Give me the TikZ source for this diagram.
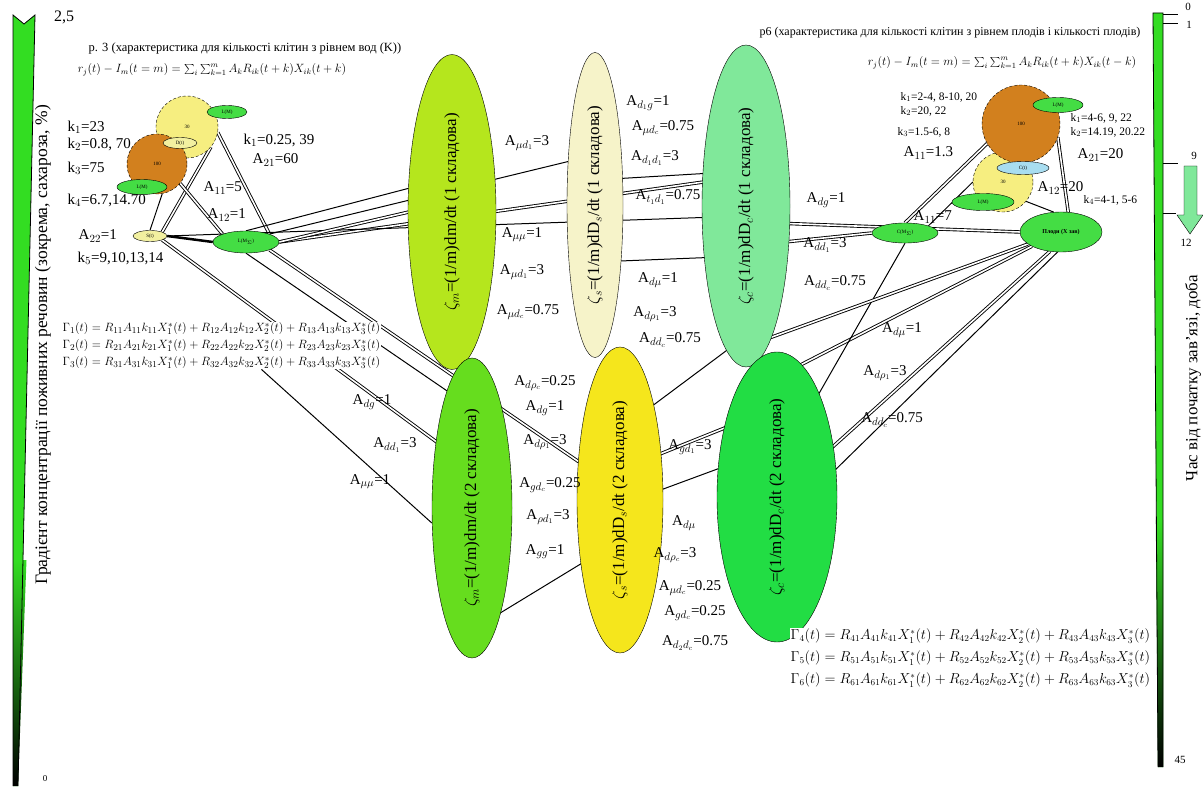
\documentclass[tikz,border=0pt]{standalone}
\usepackage{fontspec}
\setmainfont{Liberation Serif}
\usepackage{graphicx}
\usetikzlibrary{shapes.geometric}
\definecolor{zmone}{HTML}{B5E61D}
\definecolor{zsone}{HTML}{F6F3C9}
\definecolor{zcone}{HTML}{80E89A}
\definecolor{zmtwo}{HTML}{66DD1E}
\definecolor{zstwo}{HTML}{F5E61C}
\definecolor{zctwo}{HTML}{22DD44}
\definecolor{cellY}{HTML}{F6EE80}
\definecolor{cellB}{HTML}{D2801E}
\definecolor{poolg}{HTML}{44DD44}
\definecolor{poolb}{HTML}{A8DDF0}
\definecolor{pooly}{HTML}{F2F0A0}
\definecolor{barg}{HTML}{33DD22}
\pgfdeclarelayer{back}
\pgfsetlayers{back,main}

\begin{document}
\begin{tikzpicture}[
    x=1pt,y=-1pt,
    zeta/.style={ellipse, draw, thin, inner sep=0pt, font=\fontsize{17}{19}\selectfont},
    cell/.style={circle, draw, densely dashed, inner sep=0pt, font=\fontsize{5}{6}\selectfont},
    pool/.style={ellipse, draw, thin, fill=poolg, inner sep=0.5pt, font=\fontsize{5}{6}\selectfont},
    lab/.style={font=\fontsize{15}{17}\selectfont, inner sep=1pt},
    klab/.style={font=\fontsize{15}{17}\selectfont, inner sep=0.5pt, anchor=west},
    kr/.style={font=\fontsize{11.5}{13}\selectfont, inner sep=0.5pt, anchor=west},
    note/.style={font=\fontsize{10}{12}\selectfont, inner sep=0.5pt},
    link/.style={line width=1pt},
    bundle/.style={double, double distance=1.6pt, line width=0.9pt}
    ]
    \useasboundingbox (0,0) rectangle (1203,791);

    \fill[barg] (13,15) -- (24,24) -- (35,15) -- (18,786) -- (13,786) -- cycle;
    \shade[top color=barg, bottom color=black] (13,560) -- (26.5,560) -- (18,786) -- (13,786) -- cycle;
    \draw[thick] (13,786) -- (13,15) -- (24,24) -- (35,15) -- (18,786);
    \node[font=\fontsize{16}{18}\selectfont] (cmax) at (64,17) {2,5};
    \node[font=\fontsize{9}{10}\selectfont] (cmin) at (45,779) {0};
    \node[rotate=90, font=\fontsize{17.5}{19}\selectfont] (caxis) at (43,345) {Градієнт концентрації поживних речовин (зокрема, сахароза, \%)};

    \fill[barg] (1153,13) -- (1163,13) -- (1163,767) -- (1158,767) -- cycle;
    \shade[top color=barg, bottom color=black] (1155.8,520) -- (1163,520) -- (1163,767) -- (1158,767) -- cycle;
    \draw[thick] (1158,767) -- (1153,13) -- (1163,13) -- (1163,767);
    \draw (1163,14) -- (1178,14);
    \draw (1163,23) -- (1178,23);
    \draw (1163,163) -- (1178,163);
    \draw (1163,213) -- (1176,213);
    \node[font=\fontsize{11}{12}\selectfont] (tzero) at (1188,7) {0};
    \node[font=\fontsize{11}{12}\selectfont] (tone) at (1189,25) {1};
    \node[font=\fontsize{11}{12}\selectfont] (tnine) at (1194,156) {9};
    \node[font=\fontsize{11}{12}\selectfont] (ttwelve) at (1186,243) {12};
    \node[font=\fontsize{11}{12}\selectfont] (tend) at (1180,760) {45};
    \draw[fill=zcone] (1184,166) -- (1197,166) -- (1197,215) -- (1203,215) -- (1190,234) -- (1177,215) -- (1184,215) -- cycle;
    \node[rotate=90, font=\fontsize{17}{19}\selectfont] (taxis) at (1193,378) {Час від початку зав'язі, доба};

    \node[zeta, fill=zmone, minimum width=88pt, minimum height=315pt] (z1) at (452,212) {\rotatebox{90}{$\zeta_m$=(1/m)dm/dt (1 складова)}};
    \node[zeta, fill=zsone, minimum width=56pt, minimum height=305pt] (z2) at (595,205) {\rotatebox{90}{$\zeta_s$=(1/m)dD$_s$/dt (1 складова)}};
    \node[zeta, fill=zcone, minimum width=88pt, minimum height=322pt] (z3) at (746,206) {\rotatebox{90}{$\zeta_c$=(1/m)dD$_c$/dt (1 складова)}};
    \node[zeta, fill=zmtwo, minimum width=80pt, minimum height=300pt] (z4) at (472,508) {\rotatebox{90}{$\zeta_m$=(1/m)dm/dt (2 складова)}};
    \node[zeta, fill=zstwo, minimum width=86pt, minimum height=306pt] (z5) at (620,500) {\rotatebox{90}{$\zeta_s$=(1/m)dD$_s$/dt (2 складова)}};
    \node[zeta, fill=zctwo, minimum width=120pt, minimum height=290pt] (z6) at (777,497) {\rotatebox{90}{$\zeta_c$=(1/m)dD$_c$/dt (2 складова)}};

    \node[cell, fill=cellY, minimum size=62pt] (cY) at (187,127) {30};
    \node[cell, fill=cellB, minimum size=60pt] (cB) at (157,164) {100};
    \node[pool, minimum width=40pt, minimum height=13pt] (sL1) at (227,112) {L(M)};
    \node[pool, fill=pooly, minimum width=34pt, minimum height=11pt] (sL2) at (180,143) {D(t)};
    \node[pool, minimum width=50pt, minimum height=15pt] (sL3) at (142,187) {L(M)};
    \node[pool, fill=pooly, minimum width=34pt, minimum height=11pt] (nS) at (150,236) {S(t)};
    \node[pool, minimum width=66pt, minimum height=22pt] (nG) at (246,242) {L(M$_\Sigma$)};

    \node[cell, fill=cellY, minimum size=60pt] (rY) at (1003,182) {30};
    \node[cell, fill=cellB, minimum size=78pt] (rB) at (1021,124) {100};
    \node[pool, minimum width=50pt, minimum height=15pt] (rs1) at (1058,105) {L(M)};
    \node[pool, fill=poolb, minimum width=52pt, minimum height=13pt] (rs2) at (1023,168) {C(t)};
    \node[pool, minimum width=62pt, minimum height=17pt] (rs3) at (983,202) {L(M)};
    \node[pool, minimum width=66pt, minimum height=20pt] (nC) at (905,233) {C(M$_\Sigma$)};
    \node[pool, minimum width=82pt, minimum height=40pt, font=\fontsize{6}{7}\selectfont\bfseries] (nF) at (1061,232) {Плоди (X зав)};

    \node[note, font=\fontsize{12.5}{14}\selectfont] (hL) at (245,48) {р. 3 (характеристика для кількості клітин з рівнем вод (K))};
    \node[note, font=\fontsize{12}{14}\selectfont] (fL) at (212,70) {$r_j(t)-I_m(t=m)=\sum_i\sum_{k=1}^{m}A_kR_{ik}(t+k)X_{ik}(t+k)$};
    \node[note, font=\fontsize{12}{14}\selectfont] (hR) at (950,33) {р6 (характеристика для кількості клітин з рівнем плодів і кількості плодів)};
    \node[note, font=\fontsize{12}{14}\selectfont] (fR) at (1002,63) {$r_j(t)-I_m(t=m)=\sum_i\sum_{k=1}^{m}A_kR_{ik}(t+k)X_{ik}(t-k)$};

    \node[note, anchor=north west, align=left, fill=white, font=\fontsize{12.5}{17}\selectfont] (eqL) at (62,322) {%
      $\Gamma_1(t)=R_{11}A_{11}k_{11}X_1^*(t)+R_{12}A_{12}k_{12}X_2^*(t)+R_{13}A_{13}k_{13}X_3^*(t)$\\
      $\Gamma_2(t)=R_{21}A_{21}k_{21}X_1^*(t)+R_{22}A_{22}k_{22}X_2^*(t)+R_{23}A_{23}k_{23}X_3^*(t)$\\
      $\Gamma_3(t)=R_{31}A_{31}k_{31}X_1^*(t)+R_{32}A_{32}k_{32}X_2^*(t)+R_{33}A_{33}k_{33}X_3^*(t)$};
    \node[note, anchor=north west, align=left, fill=white, font=\fontsize{13.5}{22}\selectfont] (eqR) at (790,628) {%
      $\Gamma_4(t)=R_{41}A_{41}k_{41}X_1^*(t)+R_{42}A_{42}k_{42}X_2^*(t)+R_{43}A_{43}k_{43}X_3^*(t)$\\
      $\Gamma_5(t)=R_{51}A_{51}k_{51}X_1^*(t)+R_{52}A_{52}k_{52}X_2^*(t)+R_{53}A_{53}k_{53}X_3^*(t)$\\
      $\Gamma_6(t)=R_{61}A_{61}k_{61}X_1^*(t)+R_{62}A_{62}k_{62}X_2^*(t)+R_{63}A_{63}k_{63}X_3^*(t)$};

    \begin{pgfonlayer}{back}
      \draw[bundle] (nS.north east) -- (cY.-40);
      \draw[link] (nS.north) -- (cB.-80);
      \draw[bundle] (cB.-40) -- (nG.north west);
      \draw[bundle] (cY.-10) -- (nG.north east);
      \draw[line width=2.5pt] (nS.east) -- (nG.west);
      \draw[link] (nG.north east) -- ([yshift=50pt]z2.center);
      \draw[bundle] (nG.east) -- ([yshift=30pt]z3.center);
      \draw[link] (nS.east) -- ([yshift=-10pt]z3.center);
      \draw[link] (nG.north) -- ([yshift=35pt]z1.center);
      \draw[bundle] (nG.east) -- ([yshift=10pt]z1.center);
      \draw[link] ([yshift=-57pt]z2.center) -- ([yshift=-50pt]z3.center);
      \draw[link] ([yshift=25pt]z2.center) -- ([yshift=35pt]z3.center);
      \draw[bundle] ([yshift=-16pt]z3.center) -- (nF.west);
      \draw[bundle] ([yshift=-40pt]z3.center) -- (nC.west);
      \draw[bundle] (nC.north) -- (rB.-150);
      \draw[link] (nC.north east) -- (rY.west);
      \draw[bundle] (nF.70) -- (rB.-20);
      \draw[link] (nF.110) -- (rY.-40);
      \draw[bundle] (nF.south west) -- ([yshift=120pt]z6.center);
      \draw[bundle] (nF.-120) -- (z6.center);
      \draw[link] (nF.-100) -- ([yshift=-30pt]z6.center);
      \draw[link] ([xshift=40pt,yshift=100pt]z6.center) -- (nC.south);
      \draw[bundle] ([xshift=15pt,yshift=-135pt]z3.center) -- (nF.200);
      \draw[link] ([xshift=20pt,yshift=-110pt]z4.center) -- ([yshift=-40pt]z5.center);
      \draw[link] ([yshift=70pt]z5.center) -- ([yshift=-130pt]z3.center);
      \draw[bundle] ([yshift=30pt]z5.center) -- ([yshift=90pt]z6.center);
      \draw[link] ([yshift=-5pt]z5.center) -- ([yshift=50pt]z6.center);
      \draw[link] ([xshift=40pt]eqL.south) -- ([yshift=-15pt]z4.west);
      \draw[bundle] (nS.south east) -- ([yshift=40pt]z4.center);
      \draw[bundle] (nG.south east) -- ([yshift=10pt]z5.center);
      \draw[link] (nG.south) -- ([yshift=100pt]z4.center);
    \end{pgfonlayer}

    \node[klab] (kl1) at (67,127) {k$_1$=23};
    \node[klab] (kl2) at (67,144) {k$_2$=0.8, 70};
    \node[klab] (kl3) at (67,168) {k$_3$=75};
    \node[klab] (kl4) at (67,200) {k$_4$=6.7,14.70};
    \node[klab] (al22) at (78,236) {A$_{22}$=1};
    \node[klab] (kl5) at (77,258) {k$_5$=9,10,13,14};
    \node[klab] (kl6) at (243,140) {k$_1$=0.25, 39};
    \node[klab] (al21) at (252,160) {A$_{21}$=60};
    \node[klab] (al11) at (203,188) {A$_{11}$=5};
    \node[klab] (al12) at (207,215) {A$_{12}$=1};

    \node[kr] (kr1) at (900,97) {k$_1$=2-4, 8-10, 20};
    \node[kr] (kr2) at (900,111) {k$_2$=20, 22};
    \node[kr] (kr3) at (897,132) {k$_3$=1.5-6, 8};
    \node[klab] (ar11) at (903,153) {A$_{11}$=1.3};
    \node[kr] (kr4) at (1070,118) {k$_1$=4-6, 9, 22};
    \node[kr] (kr5) at (1070,132) {k$_2$=14.19, 20.22};
    \node[klab] (ar21) at (1077,155) {A$_{21}$=20};
    \node[klab] (ar12) at (1037,188) {A$_{12}$=20};
    \node[kr] (kr6) at (1083,200) {k$_4$=4-1, 5-6};
    \node[klab] (ar13) at (913,217) {A$_{11}$=7};

    \node[lab] (a1) at (527,143) {A$_{\mu d_1}$=3};
    \node[lab] (a2) at (648,103) {A$_{d_1g}$=1};
    \node[lab] (a3) at (663,128) {A$_{\mu d_c}$=0.75};
    \node[lab] (a4) at (655,158) {A$_{d_1d_1}$=3};
    \node[lab] (a5) at (668,197) {A$_{t_1d_1}$=0.75};
    \node[lab] (a6) at (522,235) {A$_{\mu\mu}$=1};
    \node[lab] (a7) at (522,272) {A$_{\mu d_1}$=3};
    \node[lab] (a8) at (528,312) {A$_{\mu d_c}$=0.75};
    \node[lab] (a9) at (658,280) {A$_{d\mu}$=1};
    \node[lab] (a10) at (655,314) {A$_{d\rho_1}$=3};
    \node[lab] (a11) at (670,340) {A$_{dd_c}$=0.75};
    \node[lab] (a12) at (826,200) {A$_{dg}$=1};
    \node[lab] (a13) at (825,245) {A$_{dd_1}$=3};
    \node[lab] (a14) at (835,283) {A$_{dd_c}$=0.75};
    \node[lab] (a15) at (902,330) {A$_{d\mu}$=1};
    \node[lab] (a16) at (885,373) {A$_{d\rho_1}$=3};
    \node[lab] (a17) at (892,420) {A$_{dd_c}$=0.75};
    \node[lab] (a18) at (372,402) {A$_{dg}$=1};
    \node[lab] (a19) at (395,445) {A$_{dd_1}$=3};
    \node[lab] (a20) at (370,482) {A$_{\mu\mu}$=1};
    \node[lab] (a21) at (545,383) {A$_{d\rho_c}$=0.25};
    \node[lab] (a22) at (545,408) {A$_{dg}$=1};
    \node[lab] (a23) at (545,442) {A$_{d\rho_1}$=3};
    \node[lab] (a24) at (550,485) {A$_{gd_c}$=0.25};
    \node[lab] (a25) at (548,517) {A$_{\rho d_1}$=3};
    \node[lab] (a26) at (545,552) {A$_{gg}$=1};
    \node[lab] (a27) at (690,447) {A$_{gd_1}$=3};
    \node[lab] (a28) at (684,523) {A$_{d\mu}$};
    \node[lab] (a29) at (675,555) {A$_{d\rho_c}$=3};
    \node[lab] (a30) at (690,588) {A$_{\mu d_c}$=0.25};
    \node[lab] (a31) at (695,613) {A$_{gd_c}$=0.25};
    \node[lab] (a32) at (695,643) {A$_{d_2d_c}$=0.75};
  \end{tikzpicture}
\end{document}
